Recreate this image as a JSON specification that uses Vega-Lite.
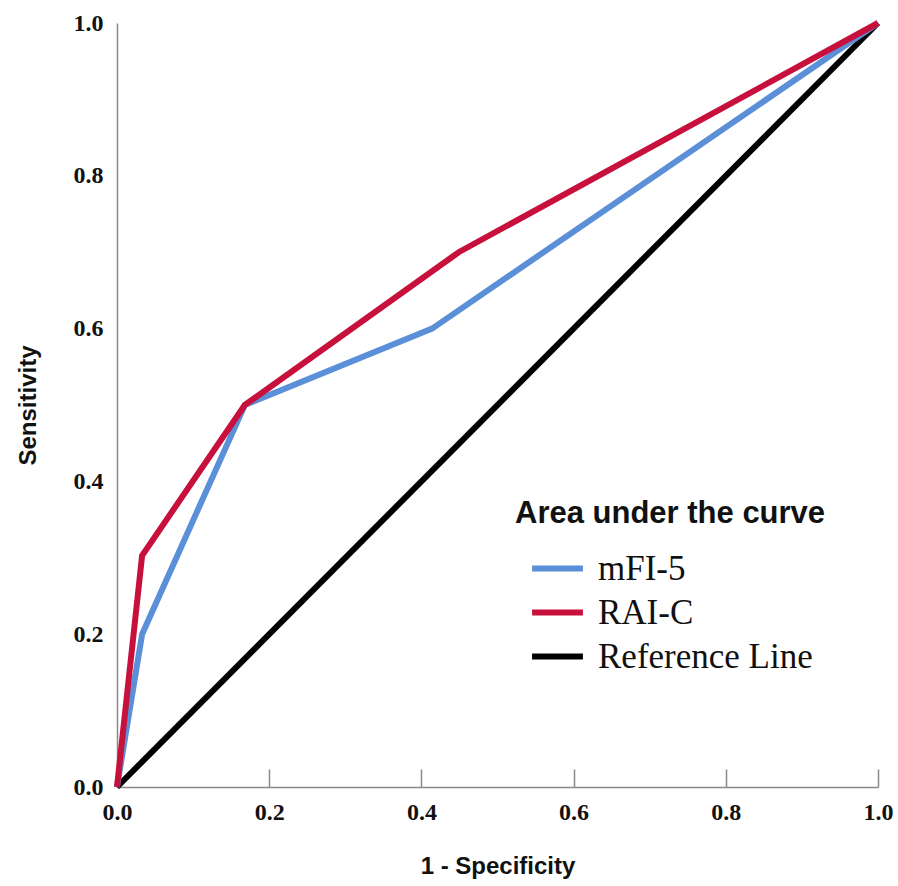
{
  "$schema": "https://vega.github.io/schema/vega-lite/v6.json",
  "width": 761,
  "height": 764,
  "autosize": "none",
  "padding": {"left": 117, "top": 23, "right": 20, "bottom": 99},
  "background": "white",
  "data": {
    "values": [
      {"series": "Reference Line", "fpr": 0, "tpr": 0, "o": 0},
      {"series": "Reference Line", "fpr": 1, "tpr": 1, "o": 1},
      {"series": "mFI-5", "fpr": 0, "tpr": 0, "o": 0},
      {"series": "mFI-5", "fpr": 0.033, "tpr": 0.2, "o": 1},
      {"series": "mFI-5", "fpr": 0.168, "tpr": 0.5, "o": 2},
      {"series": "mFI-5", "fpr": 0.414, "tpr": 0.6, "o": 3},
      {"series": "mFI-5", "fpr": 1, "tpr": 1, "o": 4},
      {"series": "RAI-C", "fpr": 0, "tpr": 0, "o": 0},
      {"series": "RAI-C", "fpr": 0.033, "tpr": 0.303, "o": 1},
      {"series": "RAI-C", "fpr": 0.168, "tpr": 0.5, "o": 2},
      {"series": "RAI-C", "fpr": 0.449, "tpr": 0.7, "o": 3},
      {"series": "RAI-C", "fpr": 1, "tpr": 1, "o": 4}
    ]
  },
  "mark": {"type": "line", "strokeWidth": 6, "strokeJoin": "miter", "strokeCap": "butt", "clip": false},
  "encoding": {
    "x": {
      "field": "fpr", "type": "quantitative",
      "scale": {"domain": [0, 1], "nice": false, "zero": false},
      "axis": {
        "title": "1 - Specificity",
        "values": [0, 0.2, 0.4, 0.6, 0.8, 1.0],
        "format": ".1f",
        "grid": false,
        "domainColor": "#888888", "domainWidth": 1.5,
        "tickColor": "#888888", "tickWidth": 1.5, "tickSize": -18,
        "labelPadding": 31,
        "labelFont": "Liberation Serif", "labelFontWeight": "bold", "labelFontSize": 24, "labelColor": "#111111",
        "labelFlush": false,
        "titleFont": "Liberation Sans", "titleFontWeight": "bold", "titleFontSize": 24, "titleColor": "#111111",
        "titlePadding": 30
      }
    },
    "y": {
      "field": "tpr", "type": "quantitative",
      "scale": {"domain": [0, 1], "nice": false, "zero": false},
      "axis": {
        "title": "Sensitivity",
        "values": [0, 0.2, 0.4, 0.6, 0.8, 1.0],
        "format": ".1f",
        "grid": false,
        "ticks": false,
        "domainColor": "#888888", "domainWidth": 1.5,
        "labelPadding": 14,
        "labelFont": "Liberation Serif", "labelFontWeight": "bold", "labelFontSize": 24, "labelColor": "#111111",
        "labelFlush": false,
        "titleFont": "Liberation Sans", "titleFontWeight": "bold", "titleFontSize": 24, "titleColor": "#111111",
        "titlePadding": 33
      }
    },
    "color": {
      "field": "series", "type": "nominal",
      "scale": {"domain": ["mFI-5", "RAI-C", "Reference Line"], "range": ["#5b90d8", "#c8103c", "#000000"]},
      "legend": {
        "title": "Area under the curve",
        "orient": "none", "legendX": 398, "legendY": 476,
        "titleFont": "Liberation Sans", "titleFontWeight": "bold", "titleFontSize": 31, "titleColor": "#111111",
        "titleLimit": 600, "labelLimit": 600,
        "titlePadding": 13,
        "labelFont": "Liberation Serif", "labelFontSize": 35, "labelColor": "#111111", "labelOffset": 15,
        "symbolType": "M-1.13,0H1.13", "symbolSize": 2025, "symbolStrokeWidth": 6, "symbolOffset": 17,
        "rowPadding": 0
      }
    },
    "order": {"field": "o", "type": "quantitative"},
    "detail": {"field": "series"}
  },
  "config": {"view": {"stroke": null}}
}
